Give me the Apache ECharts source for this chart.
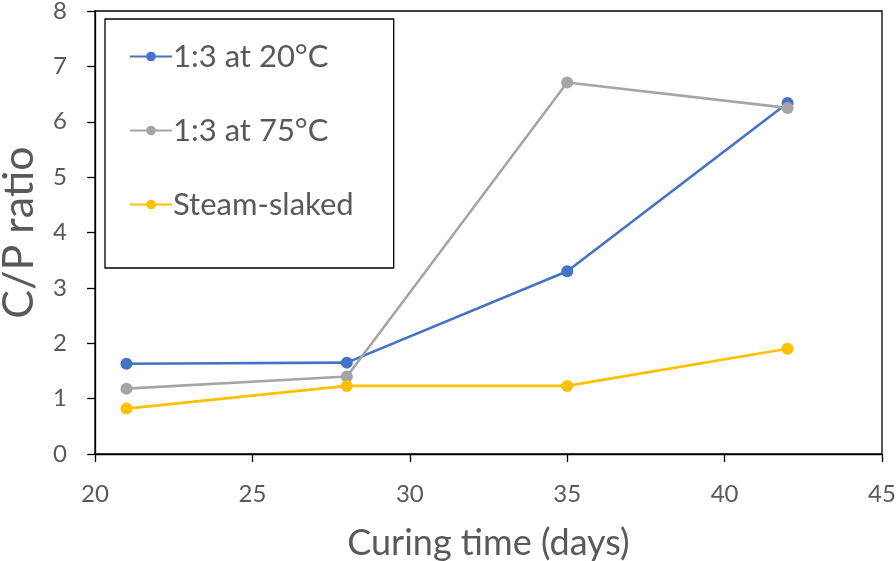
<!DOCTYPE html>
<html><head><meta charset="utf-8">
<script src="https://cdn.jsdelivr.net/npm/echarts@6/dist/echarts.min.js"></script>
<style>html,body{margin:0;padding:0;background:#fff}#c{width:896px;height:561px}</style>
</head><body><div id="c"></div>
<script>
const days = [21, 28, 35, 42];
const seriesNames = ['1:3 at 20°C', '1:3 at 75°C', 'Steam-slaked'];
const cp20 = [1.63, 1.65, 3.30, 6.34];
const cp75 = [1.18, 1.40, 6.71, 6.25];
const steam = [0.82, 1.23, 1.23, 1.90];
const colors = ['#4472C4', '#A5A5A5', '#FFC000'];
const values = [cp20, cp75, steam];

const font = 'Lato, "Open Sans", sans-serif';
const txt = '#595959';
const chart = echarts.init(document.getElementById('c'));
chart.setOption({
  animation: false,
  grid: {left: 95, right: 14, top: 11, bottom: 107, show: true, borderColor: '#000', borderWidth: 1.3,
         containLabel: false, outerBoundsMode: 'none'},
  legend: {
    orient: 'vertical', left: 105, top: 19,
    padding: [22, 40, 48, 24],
    borderColor: '#000', borderWidth: 1.3,
    itemWidth: 42, itemHeight: 12, itemGap: 43,
    textStyle: {fontFamily: font, fontSize: 31, color: txt, padding: [0, 0, 0, -4]},
    data: seriesNames
  },
  xAxis: {
    type: 'value', min: 20, max: 45, interval: 5,
    name: 'Curing time (days)', nameLocation: 'middle', nameGap: 71,
    nameTextStyle: {fontFamily: font, fontSize: 36, color: txt},
    axisLine: {lineStyle: {color: '#000', width: 1.3}},
    axisTick: {show: true, length: 8, lineStyle: {color: '#000', width: 1.3}},
    axisLabel: {fontFamily: font, fontSize: 24, color: txt, margin: 28},
    splitLine: {show: false}
  },
  yAxis: {
    type: 'value', min: 0, max: 8, interval: 1,
    name: 'C/P ratio', nameLocation: 'middle', nameGap: 54,
    nameTextStyle: {fontFamily: font, fontSize: 43, color: txt},
    axisLine: {show: true, lineStyle: {color: '#000', width: 1.3}},
    axisTick: {show: true, length: 8, lineStyle: {color: '#000', width: 1.3}},
    axisLabel: {fontFamily: font, fontSize: 24, color: txt, margin: 28},
    splitLine: {show: false}
  },
  series: seriesNames.map((n, i) => ({
    name: n, type: 'line',
    data: days.map((d, j) => [d, values[i][j]]),
    color: colors[i],
    symbol: 'circle', symbolSize: 12,
    lineStyle: {width: 2.6, color: colors[i]},
    itemStyle: {color: colors[i]}
  }))
});
</script></body></html>
